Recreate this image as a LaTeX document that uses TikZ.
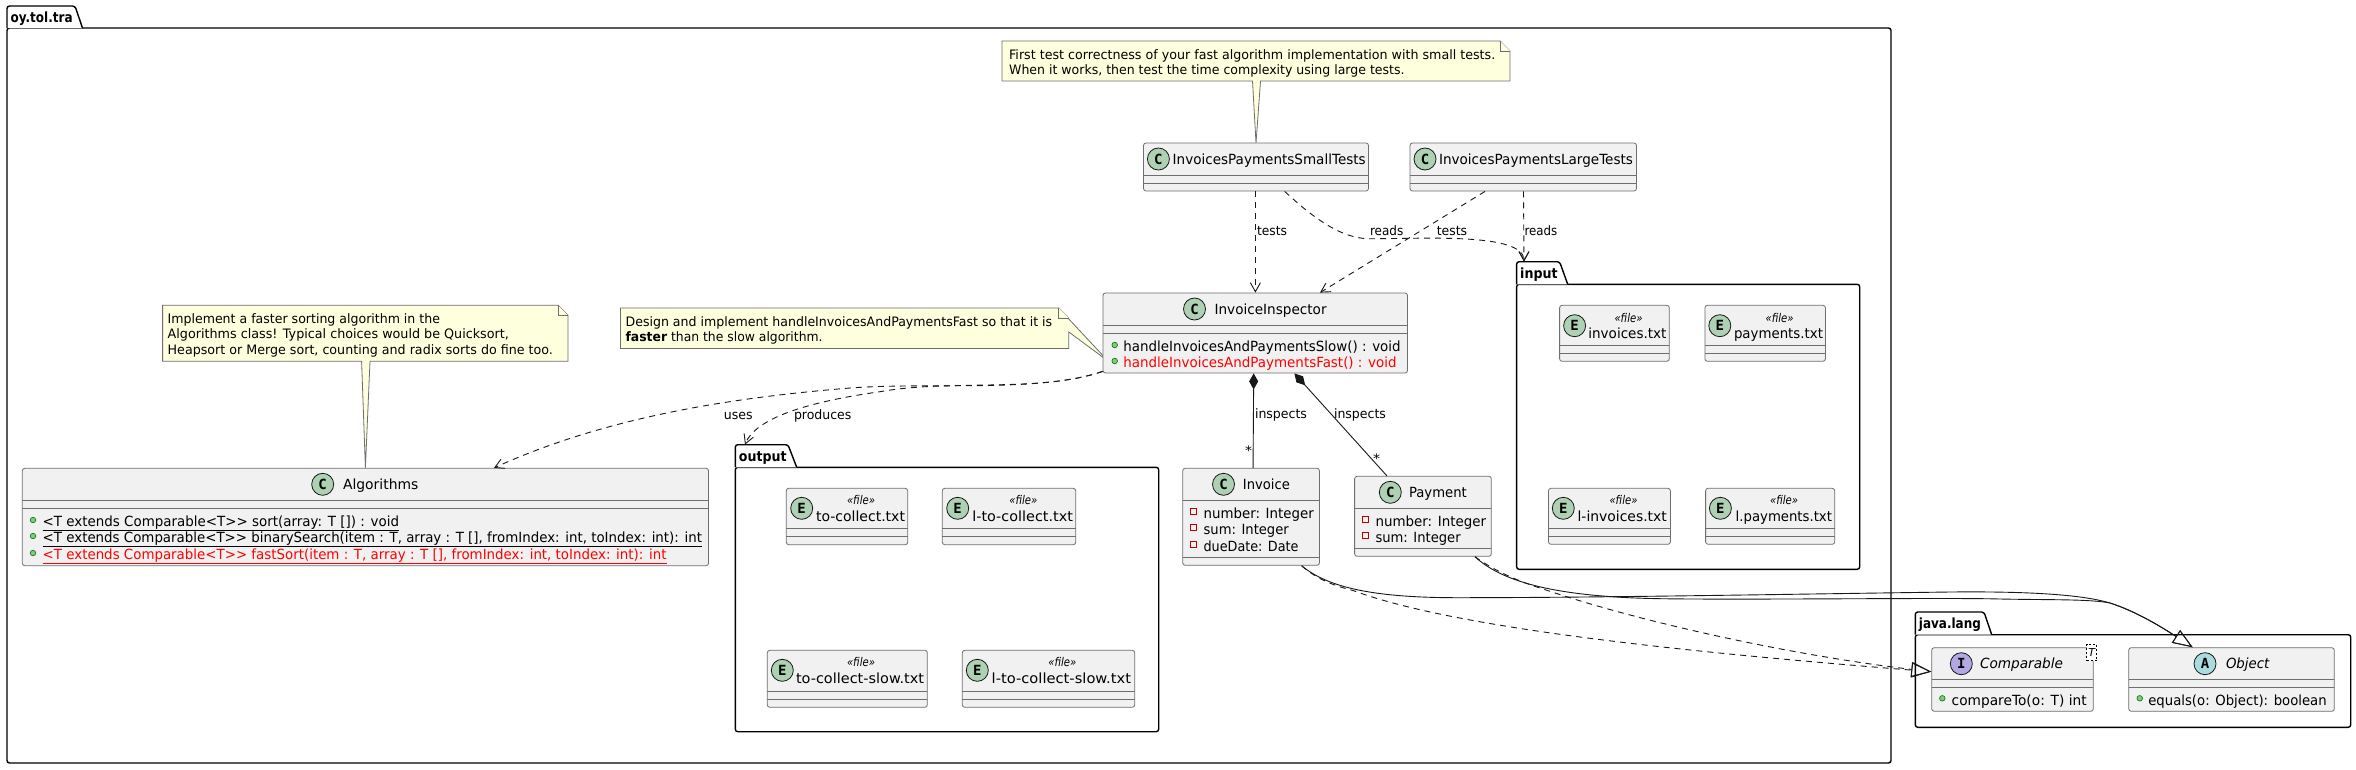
\documentclass[tikz,border=0pt]{standalone}
\usepackage{graphicx}
\usepackage{fontspec}
\setmainfont{DejaVu Sans}
\newfontfamily\markfont{DejaVu Sans Mono}
\usetikzlibrary{arrows.meta,calc}
\definecolor{boxfill}{HTML}{F1F1F1}
\definecolor{boxline}{HTML}{6E6E6E}
\definecolor{notefill}{HTML}{FEFFDD}
\definecolor{edgecol}{HTML}{181818}
\definecolor{greenc}{HTML}{ADD1B2}
\definecolor{purplec}{HTML}{B4A7E5}
\definecolor{tealc}{HTML}{A9DCDF}
\newcounter{tn}
\newsavebox{\fitbox}
% set text to an exact width by horizontal scaling
\newcommand{\fitw}[2]{\sbox{\fitbox}{#2}\pgfmathsetmacro{\fitratio}{#1/\the\wd\fitbox}\scalebox{\fitratio}[1]{\usebox{\fitbox}}}
\tikzset{
  boxstyle/.style={draw=boxline,fill=boxfill,line width=.8pt,rounded corners=2.5pt,inner sep=0pt},
  divline/.style={draw=boxline,line width=.8pt},
  pkgline/.style={draw=black,line width=1.4pt,rounded corners=2.5pt},
  notestyle/.style={draw=boxline,fill=notefill,line width=.8pt},
  txtstyle/.style={inner sep=0pt,outer sep=0pt,anchor=base west,text=black},
  depend/.style={draw=edgecol,line width=.9pt,dash pattern=on 6pt off 5pt},
  solidc/.style={draw=edgecol,line width=.9pt},
  openarrow/.style={-{Straight Barb[length=9pt,width=10pt,line width=.9pt]}},
  hollowarrow/.style={-{Triangle[open,length=20pt,width=15pt,line width=.9pt,fill=none]},},
  compos/.style={{Diamond[length=16pt,width=9pt]}-}
}
% text helpers: [size] x y width text
\newcommand{\txt}[5][14pt]{\stepcounter{tn}\node[txtstyle] (t\arabic{tn}) at (#2,#3+5) {\fontsize{#1}{#1}\selectfont\fitw{#4}{#5}};}
\newcommand{\ctxt}[3]{\stepcounter{tn}\node[txtstyle,anchor=base] (t\arabic{tn}) at (#1,#2+4) {\fontsize{12pt}{12pt}\selectfont\itshape\fitw{28}{#3}};}
% class box: name x1 y1 x2 y2 d1 d2
\newcommand{\clsbox}[7]{%
  \node[boxstyle,minimum width={(#4-#2)*1pt},minimum height={(#5-#3)*1pt}] (#1) at ({(#2+#4)/2},{(#3+#5)/2}) {};
  \draw[divline] (#2,#6) -- (#4,#6);
  \draw[divline] (#2,#7) -- (#4,#7);}
% spot: cx cy colour letter
\newcommand{\spot}[4]{\stepcounter{tn}\node[circle,draw=edgecol,fill=#3,line width=.8pt,minimum size=22pt,inner sep=0pt,font=\markfont\bfseries\fontsize{14pt}{14pt}\selectfont] (t\arabic{tn}) at (#1,#2) {#4};}
\newcommand{\dotm}[2]{\fill[fill=green!35!gray!70!white,draw=green!45!black,line width=.6pt] (#1,#2) circle (2.8pt);}
\newcommand{\sqm}[2]{\draw[draw=red!75!black,line width=.8pt] (#1-3,#2-3) rectangle (#1+3,#2+3);}
% package: name x1 ytab xtab xtab2 ytop x2 y2 {label}
\newcommand{\pkgbox}[9]{%
  \node[inner sep=0pt,minimum width={(#4-#2)*1pt},minimum height={(#6-#3)*1pt}] (#1tab) at ({(#2+#4)/2},{(#3+#6)/2}) {};
  \node[pkgline,fill=white,inner sep=0pt,minimum width={(#7-#2)*1pt},minimum height={(#8-#6)*1pt}] (#1) at ({(#2+#7)/2},{(#6+#8)/2}) {};
  \draw[draw=black,line width=1.4pt,fill=white,rounded corners=2.5pt] (#2,#6) -- (#2,#3) -- (#4,#3) -- (#5,#6);
  \stepcounter{tn}\node[txtstyle] (t\arabic{tn}) at (#2+3.6,{(#3+#6)/2+5}) {\bfseries\fontsize{14pt}{14pt}\selectfont #9};}
\begin{document}
\begin{tikzpicture}[x=1pt,y=-1pt]
\useasboundingbox (0,0) rectangle (2356,769);
\fill[white] (0,0) rectangle (2356,769);

% packages
\pkgbox{tra}{7}{6}{75}{82.5}{28}{1891}{763}{\fitw{62}{oy.tol.tra}}
\pkgbox{outp}{735.3}{444.7}{788}{796.7}{467.3}{1158.7}{731.7}{\fitw{47.7}{output}}
\pkgbox{inp}{1516.6}{261.7}{1559.6}{1567.7}{284.3}{1859.7}{569.3}{\fitw{37.4}{input}}
\pkgbox{jl}{1915.3}{612}{1984}{1991.7}{634.7}{2350.7}{727.3}{\fitw{62}{java.lang}}

% notes
\draw[notestyle] (162.6,305.3) -- (558,305.3) -- (568,315.3) -- (568,361.3) -- (370,361.3) -- (365.4,467.7) -- (361.6,361.3) -- (162.6,361.3) -- cycle;
\draw[notestyle] (558,305.3) -- (558,315.3) -- (568,315.3);
\txt[13pt]{167.7}{318.7}{272.3}{Implement a faster sorting algorithm in the}
\txt[13pt]{167.7}{333.7}{341.2}{Algorithms class! Typical choices would be Quicksort,}
\txt[13pt]{167.7}{349.7}{385.2}{Heapsort or Merge sort, counting and radix sorts do fine too.}

\draw[notestyle] (1002,41) -- (1500,41) -- (1510,51) -- (1510,81) -- (1260.5,81) -- (1256,143) -- (1252.5,81) -- (1002,81) -- cycle;
\draw[notestyle] (1500,41) -- (1500,51) -- (1510,51);
\txt[13pt]{1009.1}{54.5}{486.2}{First test correctness of your fast algorithm implementation with small tests.}
\txt[13pt]{1009.1}{69.5}{395.5}{When it works, then test the time complexity using large tests.}

\draw[notestyle] (620.5,308) -- (1058.8,308) -- (1068.8,318) -- (1068.8,319) -- (1108,361) -- (1068.8,332) -- (1068.8,348.5) -- (620.5,348.5) -- cycle;
\draw[notestyle] (1058.8,308) -- (1058.8,318) -- (1068.8,318);
\txt[13pt]{625.6}{321.7}{426.6}{Design and implement handleInvoicesAndPaymentsFast so that it is}
\txt[13pt]{625.6}{336.7}{197}{\textbf{faster} than the slow algorithm.}

% classes
\clsbox{small}{1143.5}{143}{1368.5}{191}{175.5}{183}
\spot{1158.4}{159}{greenc}{C}
\txt{1172.7}{159}{193}{InvoicesPaymentsSmallTests}

\clsbox{large}{1410}{143}{1636.5}{191}{175.5}{183}
\spot{1425}{159}{greenc}{C}
\txt{1439}{159}{194}{InvoicesPaymentsLargeTests}

\clsbox{insp}{1103}{293}{1407.5}{373}{325}{333}
\spot{1194.5}{309}{greenc}{C}
\txt{1214.6}{309}{112}{InvoiceInspector}
\dotm{1114.7}{345}
\txt{1123.4}{346}{277.2}{handleInvoicesAndPaymentsSlow() : void}
\dotm{1114.7}{361}
\txt{1123.4}{362}{273.2}{\textcolor{red}{handleInvoicesAndPaymentsFast() : void}}

\clsbox{algo}{22.3}{468.3}{708.5}{565.7}{500.3}{508.3}
\spot{322.7}{484.3}{greenc}{C}
\txt{343}{484.3}{75.4}{Algorithms}
\dotm{33}{520}
\txt{42.7}{521}{356.3}{\underline{<T extends Comparable<T>{}> sort(array: T []) : void}}
\dotm{33}{536}
\txt{42.7}{537}{659.3}{\underline{<T extends Comparable<T>{}> binarySearch(item : T, array : T [], fromIndex: int, toIndex: int): int}}
\dotm{33}{553}
\txt{42.7}{554}{623.8}{\textcolor{red}{\underline{<T extends Comparable<T>{}> fastSort(item : T, array : T [], fromIndex: int, toIndex: int): int}}}

\clsbox{invoice}{1182.7}{468.3}{1319.4}{565.3}{500.3}{557.3}
\spot{1223.5}{484.3}{greenc}{C}
\txt{1242.9}{484.3}{46.9}{Invoice}
\sqm{1193.4}{511.7}
\txt{1203.6}{513}{110.2}{number: Integer}
\sqm{1193.4}{527.7}
\txt{1203.6}{529}{85.2}{sum: Integer}
\sqm{1193.4}{544.7}
\txt{1203.6}{546}{94.9}{dueDate: Date}

\clsbox{payment}{1354.6}{476.3}{1491.3}{556.3}{508.3}{548.3}
\spot{1390.3}{492.3}{greenc}{C}
\txt{1409}{492.3}{57.8}{Payment}
\sqm{1365.3}{519.7}
\txt{1375.5}{521}{110.7}{number: Integer}
\sqm{1365.3}{535.7}
\txt{1375.5}{537}{85.2}{sum: Integer}

% output entities
\clsbox{ea}{786.3}{488.3}{907.7}{544.7}{528.3}{536.3}
\spot{801.7}{508.3}{greenc}{E}
\ctxt{861}{500.7}{«file»}
\txt{816}{516}{89}{to-collect.txt}
\clsbox{eb}{942.3}{488.3}{1075.7}{544.7}{528.3}{536.3}
\spot{957.7}{508.3}{greenc}{E}
\ctxt{1023.3}{500.7}{«file»}
\txt{972.3}{516}{100.7}{l-to-collect.txt}
\clsbox{ec}{767.3}{650.3}{927.3}{707.3}{691.7}{699.3}
\spot{782.3}{670.3}{greenc}{E}
\ctxt{861}{662.7}{«file»}
\txt{796}{678}{128}{to-collect-slow.txt}
\clsbox{ed}{962.3}{650.3}{1134.7}{707.3}{691.7}{699.3}
\spot{977.3}{670.3}{greenc}{E}
\ctxt{1062.3}{662.7}{«file»}
\txt{991.7}{678}{139.3}{l-to-collect-slow.txt}

% input entities
\clsbox{ee}{1559.6}{305.3}{1669.3}{361.3}{345.3}{353.3}
\spot{1574.6}{325.7}{greenc}{E}
\ctxt{1628.5}{318}{«file»}
\txt{1588.4}{333}{78}{invoices.txt}
\clsbox{ef}{1704.9}{305.3}{1825.4}{361.3}{345.3}{353.3}
\spot{1719.8}{325.7}{greenc}{E}
\ctxt{1779.5}{318}{«file»}
\txt{1734}{333}{89}{payments.txt}
\clsbox{eg}{1548.5}{488.3}{1670.4}{544.3}{528.3}{536.3}
\spot{1563.3}{508.3}{greenc}{E}
\ctxt{1623.5}{500.7}{«file»}
\txt{1577.6}{516}{89.2}{l-invoices.txt}
\clsbox{eh}{1705.6}{488.3}{1834.7}{544.3}{528.3}{536.3}
\spot{1720.4}{508.3}{greenc}{E}
\ctxt{1784}{500.7}{«file»}
\txt{1735.7}{516}{96.3}{l.payments.txt}

% java.lang
\clsbox{comp}{1931.7}{647.7}{2093.3}{711.3}{679.3}{687.3}
\spot{1961.3}{663.7}{purplec}{I}
\txt{1980}{663.7}{83}{\itshape Comparable}
\dotm{1942.3}{698.3}
\txt{1951.7}{700}{135}{compareTo(o: T) int}
\node[draw=black,fill=white,dash pattern=on 2pt off 2pt,line width=.6pt,inner sep=0pt,minimum width=10pt,minimum height=16.4pt,font=\itshape\fontsize{11pt}{11pt}\selectfont] (tparam) at (2091.7,652.5) {T};
\clsbox{obj}{2128.7}{647.7}{2334.3}{711.3}{679.3}{687.3}
\spot{2205}{663.7}{tealc}{A}
\txt{2226}{663.7}{43.3}{\itshape Object}
\dotm{2139.7}{698.3}
\txt{2148.3}{700}{178.4}{equals(o: Object): boolean}

% connectors
\draw[depend,openarrow] ([xshift=-.6pt]small.south) -- ([xshift=.15pt]insp.north);
\txt[13pt]{1257}{230.7}{30}{tests}
\draw[depend,openarrow] ([xshift=28.7pt]small.south) .. controls (1310,215) and (1340,238.7) .. (1369,238.7) .. controls (1420,239) and (1524,232) .. ([xshift=-14.1pt]inptab.north);
\txt[13pt]{1370}{230.7}{33.3}{reads}
\draw[depend,openarrow] ([xshift=-38.25pt]large.south) -- ([xshift=64.75pt]insp.north);
\txt[13pt]{1436.8}{230.7}{30.4}{tests}
\draw[depend,openarrow] ([xshift=.25pt]large.south) -- ([xshift=-14.1pt]inptab.north);
\txt[13pt]{1524.6}{230.7}{32.7}{reads}

\draw[solidc,compos] ([xshift=-1.55pt]insp.south) -- ([xshift=2pt]invoice.north);
\txt[13pt]{1255}{413.7}{52}{inspects}
\txt[13pt]{1245}{450.7}{7}{*}
\draw[solidc,compos] ([xshift=39.15pt]insp.south) -- ([xshift=-36pt]payment.north);
\txt[13pt]{1334}{413.7}{52}{inspects}
\txt[13pt]{1373}{458.7}{7}{*}

\draw[depend,openarrow] ([yshift=2pt]insp.south west) .. controls (1040,393) and (930,382) .. (850,388) .. controls (740,397) and (610,415) .. ([xshift=128.6pt]algo.north);
\txt[13pt]{723.9}{414}{28.7}{uses}
\draw[depend,openarrow] ([yshift=2pt]insp.south west) .. controls (1040,393) and (950,379) .. (880,391.7) .. controls (800,403) and (755,420) .. ([xshift=-16.65pt]outptab.north);
\txt[13pt]{794}{414}{57.4}{produces}

\draw[solidc,hollowarrow] ([xshift=50.5pt]invoice.south) .. controls (1325,585) and (1365,597.7) .. (1457,597.7) .. controls (1600,597.7) and (1800,594) .. (1950,592) .. controls (2050,591) and (2090,597) .. (2110,603) .. controls (2135,611) and (2160,626) .. ([xshift=-38.8pt]obj.north);
\draw[solidc,hollowarrow] ([xshift=52pt]payment.south) .. controls (1500,580) and (1550,597) .. (1661,598.7) .. controls (1750,600) and (1950,597.5) .. (2000,599) .. controls (2050,600) and (2090,599) .. (2110,603) .. controls (2135,611) and (2160,626) .. ([xshift=-38.8pt]obj.north);
\draw[depend,hollowarrow] ([xshift=50.5pt]invoice.south) .. controls (1320,582) and (1340,587) .. (1353.6,590.7) .. controls (1460,630) and (1700,653) .. ([yshift=7.8pt]comp.west);
\draw[depend,hollowarrow] ([xshift=52pt]payment.south) .. controls (1500,575) and (1530,585) .. (1544,589.3) .. controls (1640,622) and (1790,655) .. ([yshift=7.8pt]comp.west);
\end{tikzpicture}
\end{document}
